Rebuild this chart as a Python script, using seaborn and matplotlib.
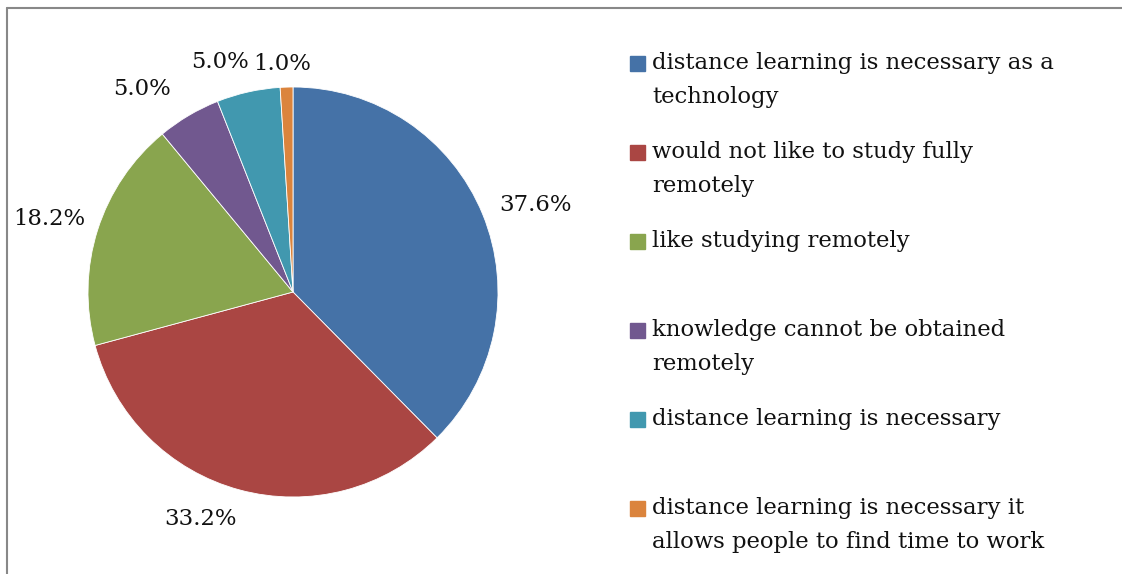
import seaborn as sns
import matplotlib.pyplot as plt
from matplotlib.patches import Rectangle
from matplotlib.lines import Line2D
import numpy as np

categories = [
    "distance learning is necessary as a\ntechnology",
    "would not like to study fully\nremotely",
    "like studying remotely",
    "knowledge cannot be obtained\nremotely",
    "distance learning is necessary",
    "distance learning is necessary it\nallows people to find time to work",
]
shares = [37.6, 33.2, 18.2, 5.0, 5.0, 1.0]
colors = ["#4572A7", "#AA4643", "#89A54E", "#71588F", "#4198AF", "#DB843D"]

sns.set_theme(style="white")
plt.rcParams["font.family"] = ["DejaVu Serif"]

fig = plt.figure(figsize=(11.22, 5.74), dpi=100)
W, H = 1122, 574

# pie centred at (293, 292) px, radius 205 px
cx, cy, r = 293, 292, 205
ax = fig.add_axes([(cx - r) / W, (H - cy - r) / H, 2 * r / W, 2 * r / H])
palette = sns.color_palette(colors)
wedges, _ = ax.pie(shares, colors=palette, startangle=90, counterclock=False,
                   wedgeprops=dict(linewidth=0.6, edgecolor="white"))
ax.set_xlim(-1, 1)
ax.set_ylim(-1, 1)
ax.set_aspect("equal")

# percentage labels outside each slice
label_dist = [1.255, 1.195, 1.24, 1.235, 1.175, 1.115]
angle_nudge = [-2.5, -7, 1, 6, 5, 1]
for w, v, d, n in zip(wedges, shares, label_dist, angle_nudge):
    ang = np.deg2rad((w.theta1 + w.theta2) / 2 + n)
    ax.text(d * np.cos(ang), d * np.sin(ang), f"{v:.1f}%", ha="center",
            va="center", fontsize=16.4, color="#111111")

# legend drawn as colour squares with wrapped labels
square_top = [56, 145, 234, 323, 412, 501]
for lab, col, top in zip(categories, palette, square_top):
    fig.add_artist(Rectangle((630 / W, 1 - (top + 15) / H), 15 / W, 15 / H,
                             transform=fig.transFigure, color=col))
    fig.text(652 / W, 1 - (top - 4) / H, lab, ha="left", va="top",
             fontsize=16.4, color="#111111", linespacing=1.7)

# outer frame (left and top edges only visible)
fig.add_artist(Line2D([6.5 / W, 6.5 / W], [0, 1 - 8 / H], transform=fig.transFigure,
                      color="#888888", lw=1.5))
fig.add_artist(Line2D([6.5 / W, 1], [1 - 8 / H, 1 - 8 / H], transform=fig.transFigure,
                      color="#888888", lw=1.5))

fig.savefig("out.png", dpi=100)
